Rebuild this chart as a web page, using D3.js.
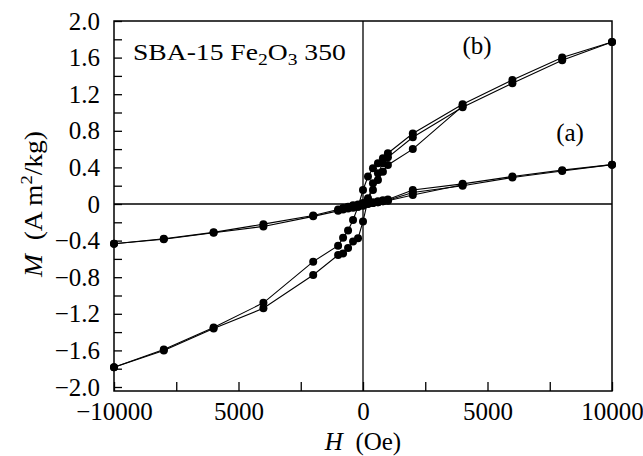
<!DOCTYPE html>
<html>
<head>
<meta charset="utf-8">
<script src="https://cdn.jsdelivr.net/npm/d3@7"></script>
<style>
  body { margin: 0; background: #fff; }
  svg { font-family: "Liberation Serif", "Times New Roman", serif; }
</style>
</head>
<body>
<div id="chart"></div>
<script>
// field steps (Oe) used by the loop branches
const hDown = [10000, 8000, 6000, 4000, 2000, 1000, 800, 600, 400, 200, 0, -200, -400, -600, -800, -1000, -2000, -4000, -6000, -8000, -10000];
const hUp = [-10000, -8000, -6000, -4000, -2000, -1000, -800, -600, -400, -200, 0, 200, 400, 600, 800, 1000, 2000, 4000, 6000, 8000, 10000];
const hVirgin = [0, 200, 400, 600, 800, 1000, 2000, 4000];

// sample (b)
const bDown = [1.77, 1.60, 1.355, 1.09, 0.77, 0.555, 0.50, 0.445, 0.39, 0.30, 0.153, -0.03, -0.175, -0.29, -0.37, -0.455, -0.63, -1.08, -1.35, -1.59, -1.785];
const bUp = [-1.785, -1.60, -1.36, -1.14, -0.776, -0.557, -0.54, -0.48, -0.41, -0.375, -0.19, 0.044, 0.226, 0.335, 0.445, 0.51, 0.73, 1.057, 1.32, 1.57, 1.77];
const bVirgin = [0.0, 0.062, 0.153, 0.262, 0.353, 0.426, 0.60, 1.07];

// sample (a)
const aDown = [0.43, 0.37, 0.30, 0.22, 0.153, 0.05, 0.04, 0.03, 0.02, 0.015, 0.01, -0.005, -0.015, -0.03, -0.045, -0.06, -0.125, -0.22, -0.31, -0.38, -0.435];
const aUp = [-0.435, -0.385, -0.315, -0.245, -0.135, -0.075, -0.06, -0.05, -0.04, -0.03, -0.02, 0.0, 0.01, 0.02, 0.03, 0.04, 0.125, 0.20, 0.29, 0.36, 0.43];
const aVirgin = [0.0, 0.005, 0.01, 0.02, 0.03, 0.035, 0.098, 0.21];

const xMinor = [-10000, -7500, -5000, -2500, 0, 2500, 5000, 7500, 10000];
const xTicks = [-10000, -5000, 0, 5000, 10000];
const xTickLabels = ["\u221210000", "5000", "0", "5000", "10000"];
const yMinor = d3.range(-10, 11).map(d => d / 5);
const yTicks = [-2.0, -1.6, -1.2, -0.8, -0.4, 0, 0.4, 0.8, 1.2, 1.6, 2.0];
const yTickLabels = ["\u22122.0", "\u22121.6", "\u22121.2", "\u22120.8", "\u22120.4", "0", "0.4", "0.8", "1.2", "1.6", "2.0"];

const width = 643;
const height = 456;
const plotLeft = 114, plotRight = 612, plotTop = 21, plotBottom = 387, frameBottom = 391;
const fs = 25;

const svg = d3.select("#chart").append("svg")
    .attr("width", width)
    .attr("height", height);

const x = d3.scaleLinear().domain([-10000, 10000]).range([plotLeft, plotRight]);
const y = d3.scaleLinear().domain([-2, 2]).range([plotBottom, plotTop]);

// zero lines
svg.append("line")
    .attr("x1", plotLeft).attr("x2", plotRight)
    .attr("y1", y(0)).attr("y2", y(0))
    .attr("stroke", "#000").attr("stroke-width", 1.3);
svg.append("line")
    .attr("x1", x(0)).attr("x2", x(0))
    .attr("y1", plotTop).attr("y2", frameBottom)
    .attr("stroke", "#000").attr("stroke-width", 1.3);

// ticks (inward)
svg.append("g")
    .attr("transform", `translate(${plotLeft},0)`)
    .call(d3.axisLeft(y).tickValues(yMinor).tickSize(-8).tickFormat(""))
    .call(g => g.select(".domain").remove());
svg.append("g")
    .attr("transform", `translate(0,${frameBottom})`)
    .call(d3.axisBottom(x).tickValues(xMinor).tickSize(-9).tickFormat(""))
    .call(g => g.select(".domain").remove());
svg.selectAll(".tick line").attr("stroke-width", 1.3);

// tick labels
svg.append("g")
    .attr("transform", `translate(${plotLeft},0)`)
    .call(d3.axisLeft(y).tickValues(yTicks).tickSize(0).tickPadding(14)
        .tickFormat((d, i) => yTickLabels[i]))
    .call(g => g.select(".domain").remove())
    .selectAll("text")
    .attr("font-size", fs)
    .attr("font-family", "Liberation Serif")
    .attr("fill", "#000");
svg.append("g")
    .attr("transform", `translate(0,${frameBottom})`)
    .call(d3.axisBottom(x).tickValues(xTicks).tickSize(0).tickPadding(11)
        .tickFormat((d, i) => xTickLabels[i]))
    .call(g => g.select(".domain").remove())
    .selectAll("text")
    .attr("font-size", fs)
    .attr("font-family", "Liberation Serif")
    .attr("fill", "#000");

// frame
svg.append("rect")
    .attr("x", plotLeft).attr("y", plotTop)
    .attr("width", plotRight - plotLeft).attr("height", frameBottom - plotTop)
    .attr("fill", "none").attr("stroke", "#000").attr("stroke-width", 1.5);

// curves
const series = [
    {h: hDown, m: bDown}, {h: hUp, m: bUp}, {h: hVirgin, m: bVirgin},
    {h: hDown, m: aDown}, {h: hUp, m: aUp}, {h: hVirgin, m: aVirgin}
];
const line = d3.line().x(d => x(d[0])).y(d => y(d[1]));

series.forEach(s => {
    const pts = s.h.map((h, i) => [h, s.m[i]]);
    svg.append("path")
        .datum(pts)
        .attr("d", line)
        .attr("fill", "none")
        .attr("stroke", "#000")
        .attr("stroke-width", 1.1);
    svg.append("g").selectAll("circle")
        .data(pts)
        .enter()
        .append("circle")
            .attr("cx", d => x(d[0]))
            .attr("cy", d => y(d[1]))
            .attr("r", 4)
            .attr("fill", "#000");
});

// annotations
const title = svg.append("text")
    .attr("transform", "translate(133,60) scale(1.15,1)")
    .attr("font-size", 24);
title.append("tspan").text("SBA-15 Fe");
title.append("tspan").attr("font-size", 17).attr("dy", 5).text("2");
title.append("tspan").attr("dy", -5).text("O");
title.append("tspan").attr("font-size", 17).attr("dy", 5).text("3");
title.append("tspan").attr("dy", -5).text(" 350");

svg.append("text")
    .attr("x", 477).attr("y", 54)
    .attr("text-anchor", "middle")
    .attr("font-size", fs)
    .text("(b)");
svg.append("text")
    .attr("x", 570).attr("y", 141)
    .attr("text-anchor", "middle")
    .attr("font-size", fs)
    .text("(a)");

// axis titles
const xt = svg.append("text")
    .attr("x", x(0)).attr("y", 450)
    .attr("text-anchor", "middle")
    .attr("font-size", fs);
xt.append("tspan").attr("font-style", "italic").text("H");
xt.append("tspan").text("\u2002(Oe)");

const yt = svg.append("text")
    .attr("transform", `translate(42,${y(0)}) rotate(-90) scale(1.1,1)`)
    .attr("text-anchor", "middle")
    .attr("font-size", fs);
yt.append("tspan").attr("font-style", "italic").text("M");
yt.append("tspan").text("\u2002(A m");
yt.append("tspan").attr("font-size", 17).attr("dy", -10).text("2");
yt.append("tspan").attr("dy", 10).text("/kg)");
</script>
</body>
</html>
